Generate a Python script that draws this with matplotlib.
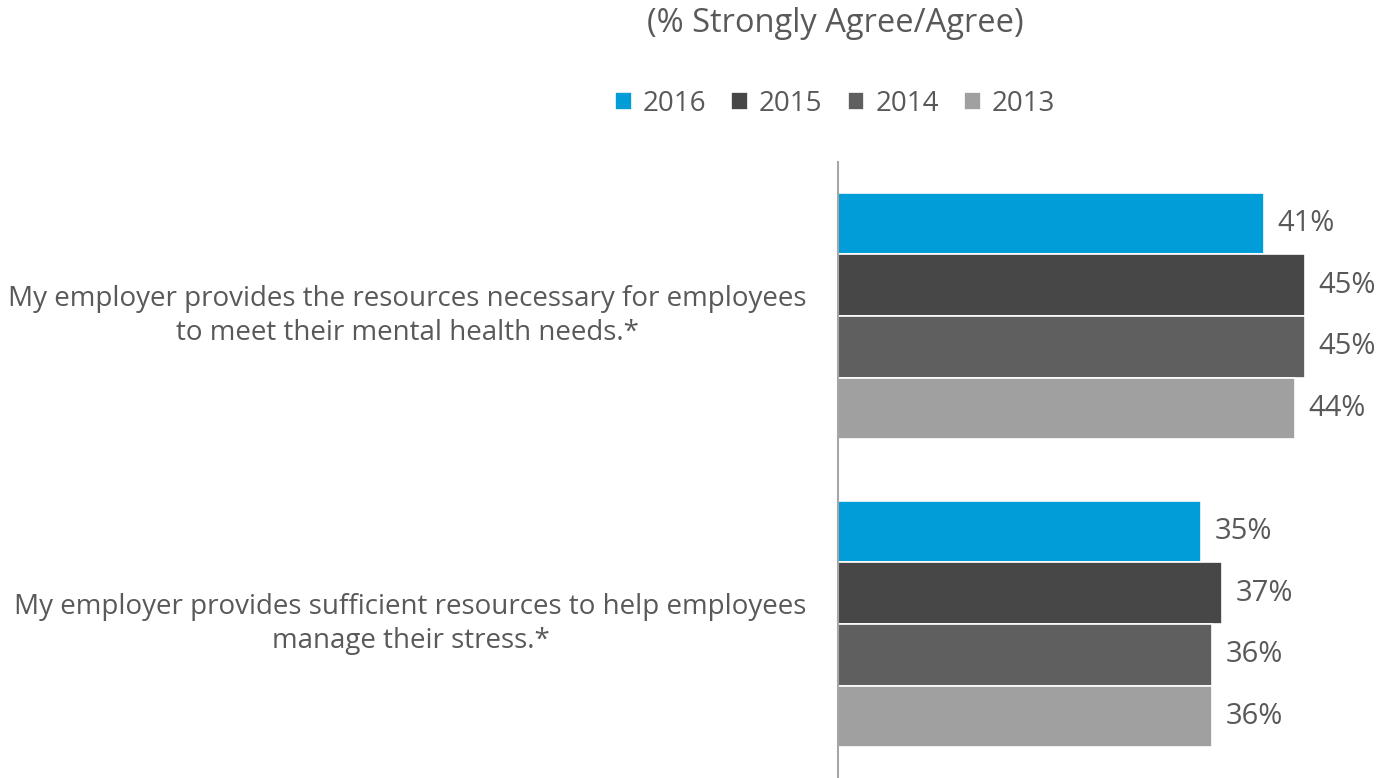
import numpy as np
import matplotlib.pyplot as plt

plt.rcParams['font.family'] = ['Open Sans', 'DejaVu Sans']

# Survey statements and share agreeing, per year
statements = ['My employer provides the resources necessary for employees\nto meet their mental health needs.*',
              'My employer provides sufficient resources to help employees\nmanage their stress.*']
years = ['2016', '2015', '2014', '2013']
v2016 = [41, 35]
v2015 = [45, 37]
v2014 = [45, 36]
v2013 = [44, 36]
colors = ['#009DD9', '#474747', '#5F5F5F', '#A0A0A0']
text_grey = '#595959'

fig = plt.figure(figsize=(13.85, 7.78), dpi=100)
ax = fig.add_axes([838 / 1385, 0, 540 / 1385, 616 / 778])

series = [v2016, v2015, v2014, v2013]
h = 0.2
y = np.arange(len(statements))
for i, (vals, yr, c) in enumerate(zip(series, years, colors)):
    pos = y - 0.3 + i * h
    ax.barh(pos, vals, height=h, color=c, edgecolor='white', linewidth=1.2, label=yr)
    for p, v in zip(pos, vals):
        ax.text(v + 1.3, p, f'{v}%', va='center', ha='left', fontsize=21, color=text_grey)

ax.set_xlim(0, 52)
ax.set_ylim(1.5, -0.5)
ax.set_xticks([])
ax.set_yticks([])
for s in ['top', 'right', 'bottom']:
    ax.spines[s].set_visible(False)
ax.spines['left'].set_color('#A6A6A6')
ax.spines['left'].set_linewidth(1.5)

for yy, lab in zip(y, statements):
    ax.text(-3, yy, lab, ha='right', va='center', multialignment='center', fontsize=20,
            color=text_grey, linespacing=1.3, clip_on=False)

fig.text(835 / 1385, 1 - 23 / 778, '(% Strongly Agree/Agree)', ha='center', va='center',
         fontsize=23.5, color=text_grey)

leg = fig.legend(loc='center', bbox_to_anchor=(835 / 1385, 1 - 104 / 778), ncol=4, frameon=False,
                 fontsize=20, handlelength=0.6, handleheight=0.6, handletextpad=0.4,
                 columnspacing=0.9)
for t in leg.get_texts():
    t.set_color(text_grey)

fig.savefig('out.png', dpi=100)
